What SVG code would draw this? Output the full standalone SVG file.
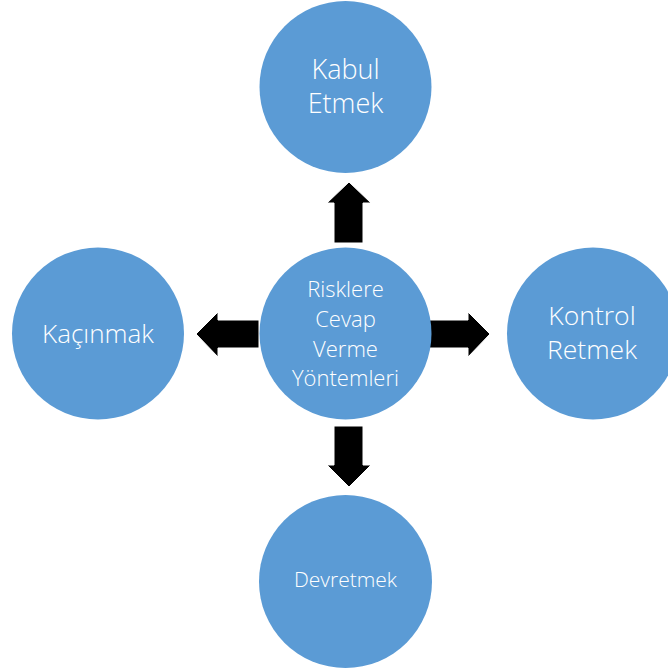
<svg xmlns="http://www.w3.org/2000/svg" width="668" height="671" viewBox="0 0 668 671">
<style>
.n{fill:#5B9BD5}
.t{fill:#fff;font-family:"Open Sans","Noto Sans",sans-serif;font-weight:300;text-anchor:middle}
.a{fill:#000;stroke:#fff;stroke-width:1}
</style>
<rect width="668" height="671" fill="#fff"/>
<g id="connectors">
<polygon class="a" points="334,243 334,203 327,203 349,182 371,203 363,203 363,243"/>
<polygon class="a" points="334,426 363,426 363,465 371,465 349,487 327,465 334,465"/>
<polygon class="a" points="259,320 218,320 218,312 196,334 218,357 218,348 259,348"/>
<polygon class="a" points="428,320 468,320 468,312 490,334 468,357 468,348 428,348"/>
</g>
<g id="center">
<circle class="n" cx="345.5" cy="333.5" r="86"/>
<text class="t" font-size="22" x="345.5" y="297">Risklere</text>
<text class="t" font-size="22" x="345.5" y="327">Cevap</text>
<text class="t" font-size="22" x="345.5" y="357">Verme</text>
<text class="t" font-size="22" x="345.5" y="386">Yöntemleri</text>
</g>
<g id="kabul">
<circle class="n" cx="345.5" cy="87" r="86"/>
<text class="t" font-size="27" x="345.5" y="79">Kabul</text>
<text class="t" font-size="27" x="345.5" y="113">Etmek</text>
</g>
<g id="kacinmak">
<circle class="n" cx="98" cy="333.5" r="86"/>
<text class="t" font-size="26" x="98" y="343">Kaçınmak</text>
</g>
<g id="kontrol">
<circle class="n" cx="593" cy="333.5" r="86"/>
<text class="t" font-size="26.5" x="592" y="325">Kontrol</text>
<text class="t" font-size="26.5" x="592" y="358.5">Retmek</text>
</g>
<g id="devretmek">
<circle class="n" cx="345.5" cy="581.5" r="86.5"/>
<text class="t" font-size="21" x="345.5" y="587">Devretmek</text>
</g>
</svg>
